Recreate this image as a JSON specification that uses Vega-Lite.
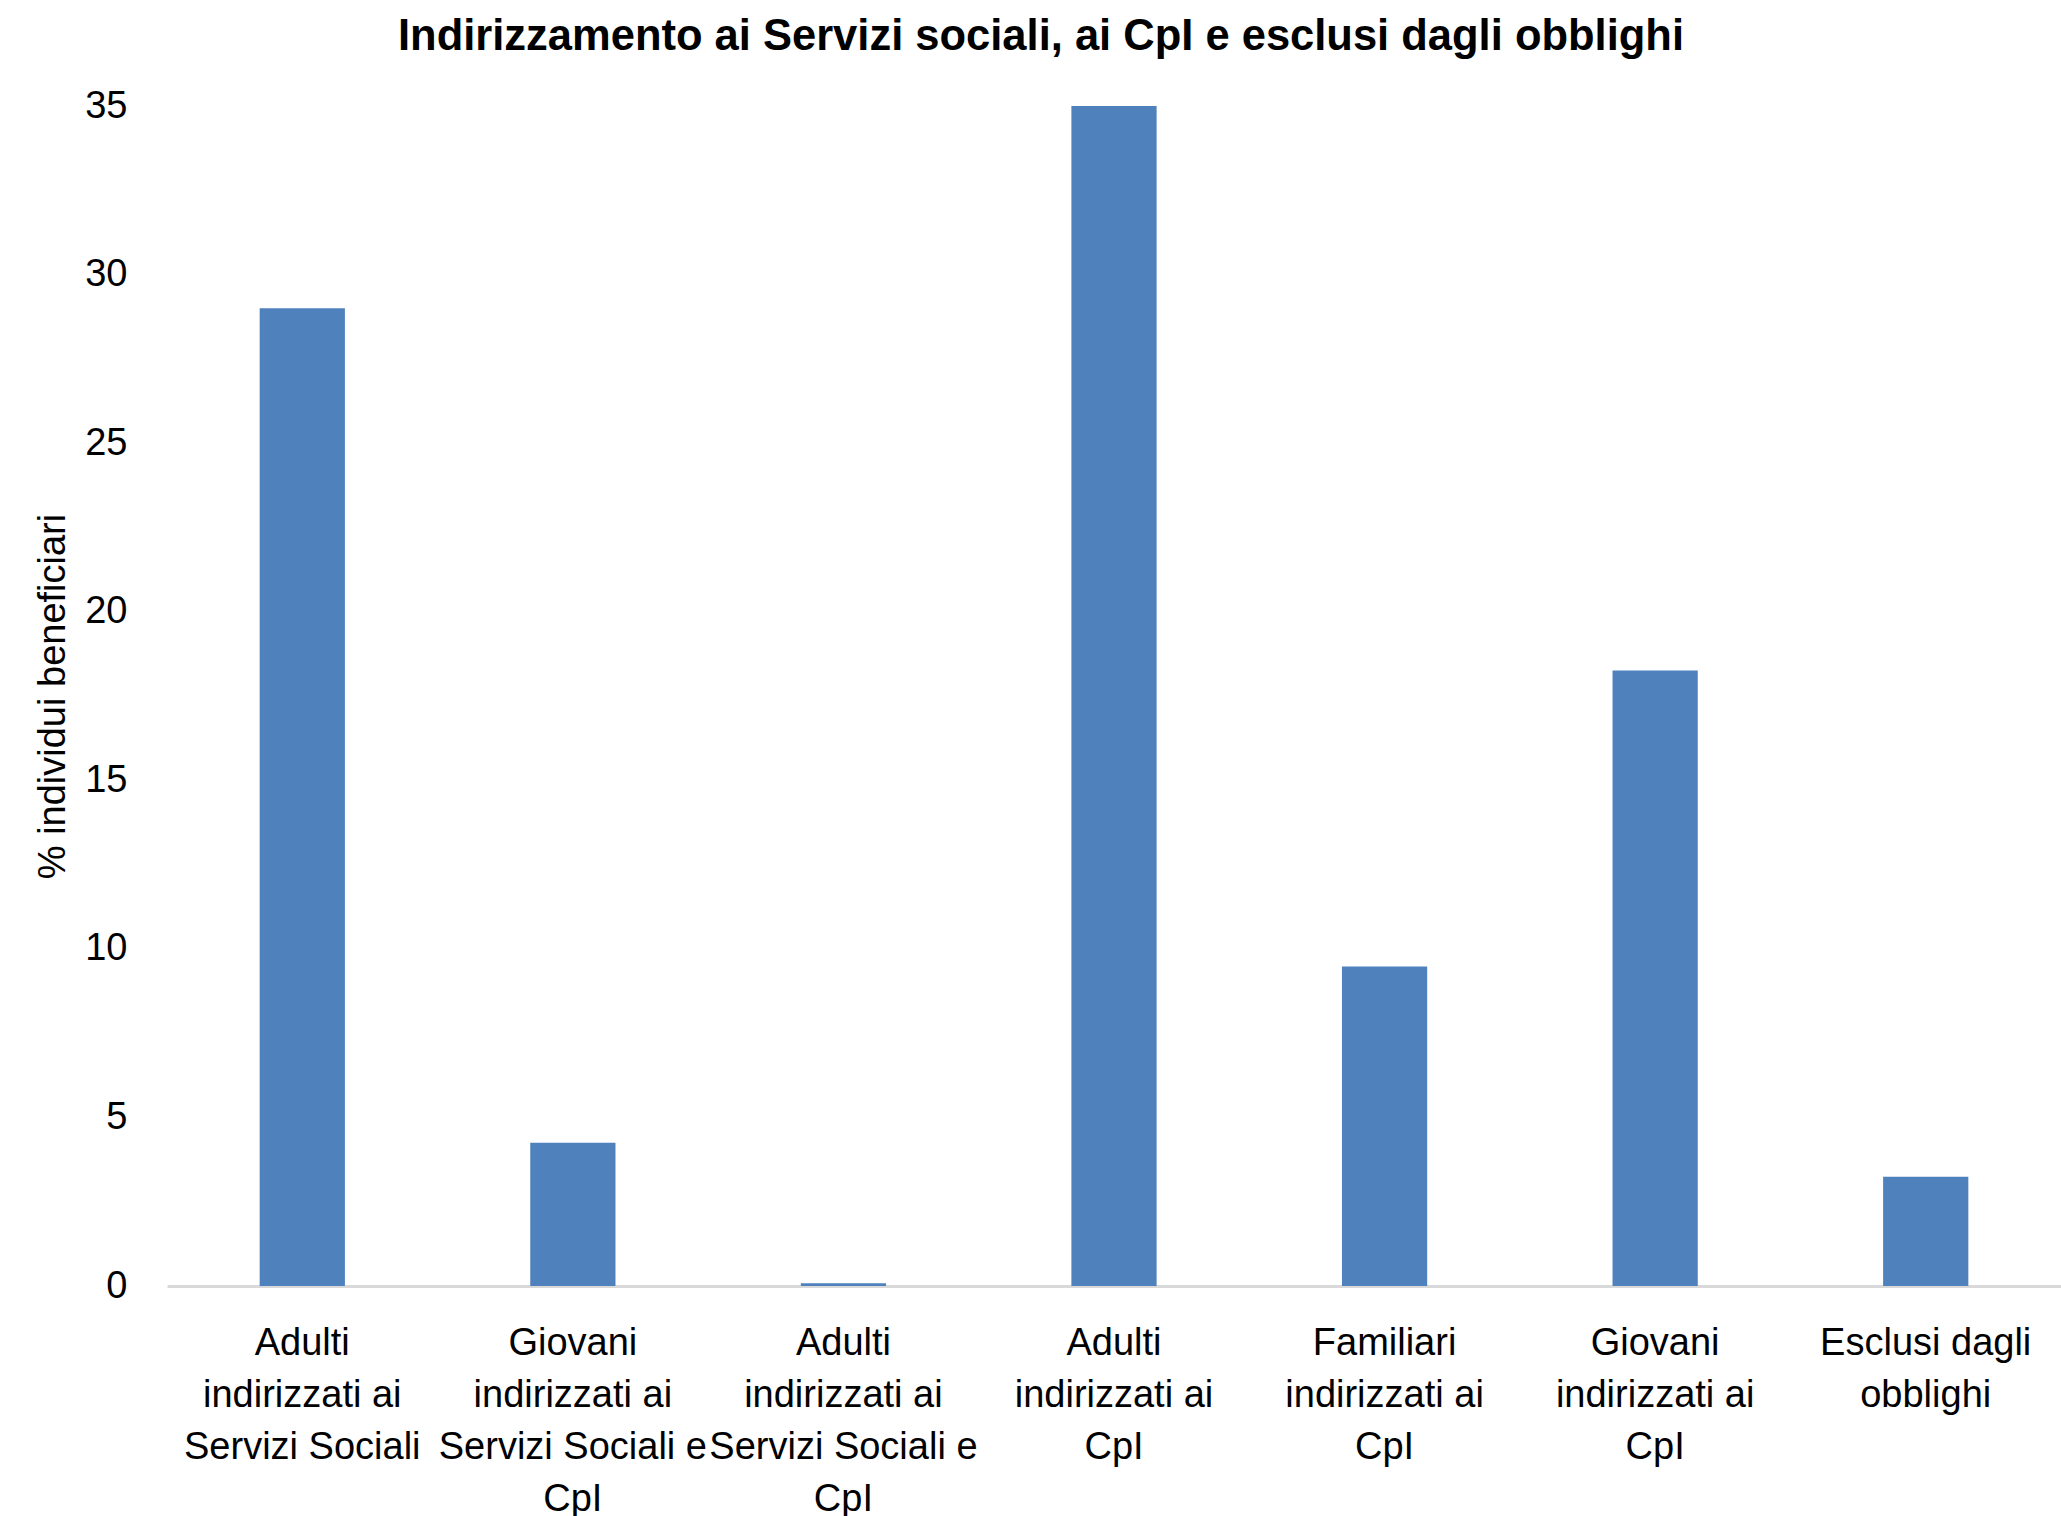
{
  "$schema": "https://vega.github.io/schema/vega-lite/v6.json",
  "autosize": "none",
  "width": 1894,
  "height": 1180,
  "padding": {"left": 167, "top": 106, "right": 0, "bottom": 230},
  "background": "white",
  "title": {
    "text": "Indirizzamento ai Servizi sociali, ai CpI e esclusi dagli obblighi",
    "font": "Liberation Sans",
    "fontSize": 43.5,
    "fontWeight": "bold",
    "color": "black",
    "anchor": "middle",
    "dx": -73,
    "offset": 28
  },
  "data": {
    "values": [
      {"categoria": "Adulti indirizzati ai Servizi Sociali", "valore": 29.0},
      {"categoria": "Giovani indirizzati ai Servizi Sociali e CpI", "valore": 4.25},
      {"categoria": "Adulti indirizzati ai Servizi Sociali e CpI", "valore": 0.08},
      {"categoria": "Adulti indirizzati ai CpI", "valore": 35.0},
      {"categoria": "Familiari indirizzati ai CpI", "valore": 9.48},
      {"categoria": "Giovani indirizzati ai CpI", "valore": 18.26},
      {"categoria": "Esclusi dagli obblighi", "valore": 3.24}
    ]
  },
  "mark": {"type": "bar", "color": "#4F81BD"},
  "encoding": {
    "x": {
      "field": "categoria",
      "type": "nominal",
      "sort": null,
      "scale": {"paddingInner": 0.685, "paddingOuter": 0.3425},
      "axis": {
        "title": null,
        "labelAngle": 0,
        "labelFont": "Liberation Sans",
        "labelFontSize": 38,
        "labelColor": "black",
        "labelLineHeight": 52,
        "labelPadding": 38,
        "labelBaseline": "top",
        "labelLimit": 400,
        "ticks": false,
        "domainColor": "#d9d9d9",
        "domainWidth": 3,
        "labelExpr": "datum.value == 'Adulti indirizzati ai Servizi Sociali' ? ['Adulti', 'indirizzati ai', 'Servizi Sociali'] : datum.value == 'Giovani indirizzati ai Servizi Sociali e CpI' ? ['Giovani', 'indirizzati ai', 'Servizi Sociali e', 'CpI'] : datum.value == 'Adulti indirizzati ai Servizi Sociali e CpI' ? ['Adulti', 'indirizzati ai', 'Servizi Sociali e', 'CpI'] : datum.value == 'Adulti indirizzati ai CpI' ? ['Adulti', 'indirizzati ai', 'CpI'] : datum.value == 'Familiari indirizzati ai CpI' ? ['Familiari', 'indirizzati ai', 'CpI'] : datum.value == 'Giovani indirizzati ai CpI' ? ['Giovani', 'indirizzati ai', 'CpI'] : ['Esclusi dagli', 'obblighi']"
      }
    },
    "y": {
      "field": "valore",
      "type": "quantitative",
      "scale": {"domain": [0, 35], "nice": false},
      "axis": {
        "title": "% individui beneficiari",
        "titleFont": "Liberation Sans",
        "titleFontSize": 38,
        "titleFontWeight": "normal",
        "titleColor": "black",
        "titlePadding": 12,
        "values": [0, 5, 10, 15, 20, 25, 30, 35],
        "labelFont": "Liberation Sans",
        "labelFontSize": 38,
        "labelColor": "black",
        "labelPadding": 40,
        "ticks": false,
        "domain": false,
        "grid": false
      }
    }
  },
  "config": {"view": {"stroke": null}}
}
